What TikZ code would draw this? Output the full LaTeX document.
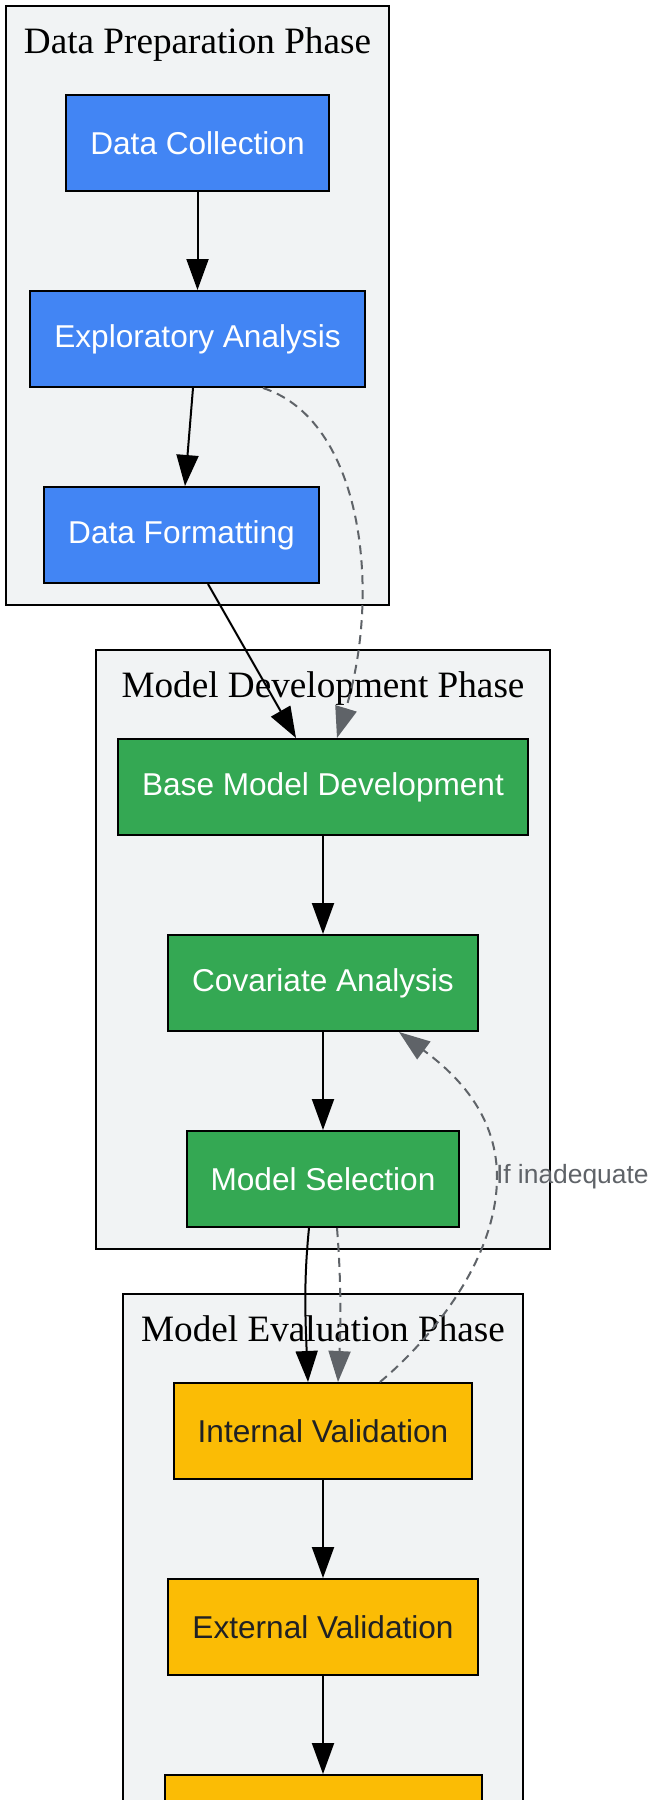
\documentclass[tikz,border=0pt]{standalone}
\usepackage{fontspec}
\setmainfont{Liberation Serif}
\newfontfamily\boxfont{Liberation Sans}
\usetikzlibrary{positioning,fit,backgrounds,arrows.meta}

\definecolor{prepblue}{HTML}{4285F4}
\definecolor{devgreen}{HTML}{34A853}
\definecolor{evalyellow}{HTML}{FBBC05}
\definecolor{evaltext}{HTML}{202124}
\definecolor{phasebg}{HTML}{F1F3F4}
\definecolor{loopgray}{HTML}{5F6368}

\tikzset{
  stage/.style={
    rectangle,
    minimum height=48pt,
    inner xsep=12pt,
    align=center,
    draw=black,
    line width=1pt,
    font=\boxfont\fontsize{15.8pt}{19pt}\selectfont
    },
  prep/.style={stage, fill=prepblue, text=white},
  dev/.style={stage, fill=devgreen, text=white},
  eval/.style={stage, fill=evalyellow, text=evaltext},
  phase/.style={
    inner sep=0pt,
    text height=13pt,
    text depth=0pt,
    font=\fontsize{18.6pt}{22pt}\selectfont
    },
  cluster/.style={
    rectangle,
    draw=black,
    line width=1pt,
    fill=phasebg,
    inner xsep=9pt,
    inner ysep=10.5pt
    },
  arrow/.style={line width=1pt,-{Triangle[length=15.5pt,width=11pt]}},
  feedback/.style={arrow, draw=loopgray, dash pattern=on 4.5pt off 3pt},
  looplabel/.style={
    text=loopgray,
    inner sep=0pt,
    font=\boxfont\fontsize{13.2pt}{16pt}\selectfont
    },
}

\begin{document}
\begin{tikzpicture}[x=0.5pt, y=-0.5pt, node distance=49pt]
\useasboundingbox (0,0) rectangle (652,1800);

% data preparation
\node (dc) [prep] at (197.5,143) {Data Collection};
\node (ea) [prep, below=of dc] {Exploratory Analysis};
\node (df) [prep, below=of ea, xshift=-8pt] {Data Formatting};
\node (t1) [phase, above=20pt of dc] {Data Preparation Phase};

% model development
\node (bmd) [dev] at (323,787) {Base Model Development};
\node (ca) [dev, below=of bmd] {Covariate Analysis};
\node (ms) [dev, below=of ca] {Model Selection};
\node (t2) [phase, above=20pt of bmd] {Model Development Phase};

% model evaluation
\node (iv) [eval] at (323,1431) {Internal Validation};
\node (ev) [eval, below=of iv] {External Validation};
\node (nx) [eval, below=of ev, minimum width=158.5pt] {};
\node (t3) [phase, above=20pt of iv] {Model Evaluation Phase};

\begin{scope}[on background layer]
  \fill[white] (0,0) rectangle (652,1800);
  \node (prepbox) [cluster, fit=(t1)(dc)(ea)(df)] {};
  \node (devbox) [cluster, inner xsep=10.5pt, fit=(t2)(bmd)(ca)(ms)] {};
  \node (evalbox) [cluster, fit=(t3)(iv)(ev)(nx)] {};
\end{scope}

\draw[arrow] (dc) -- (ea);
\draw[arrow] ([xshift=-2.25pt]ea.south) -- ([xshift=1.75pt]df.north);
\draw[arrow] ([xshift=13.25pt]df.south) -- ([xshift=-13.5pt]bmd.north);
\draw[feedback] ([xshift=32.75pt]ea.south) .. controls (362,420) and (382,590) .. ([xshift=7pt]bmd.north);
\draw[arrow] (bmd) -- (ca);
\draw[arrow] (ca) -- (ms);
\draw[arrow] ([xshift=-7pt]ms.south) .. controls +(-5,50) and +(-3,-70) .. ([xshift=-7.5pt]iv.north);
\draw[feedback] ([xshift=7pt]ms.south) .. controls +(4,50) and +(3,-60) .. ([xshift=7.5pt]iv.north);
\coordinate (turn) at (497,1177);
\draw[feedback] ([xshift=28.5pt]iv.north) .. controls (430,1340) and (497,1260) .. (turn)
  node[looplabel, anchor=west, xshift=-1pt] {If inadequate}
  .. controls (497,1110) and (450,1070) .. ([xshift=38pt]ca.south);
\draw[arrow] (iv) -- (ev);
\draw[arrow] (ev) -- (nx);
\end{tikzpicture}
\end{document}
